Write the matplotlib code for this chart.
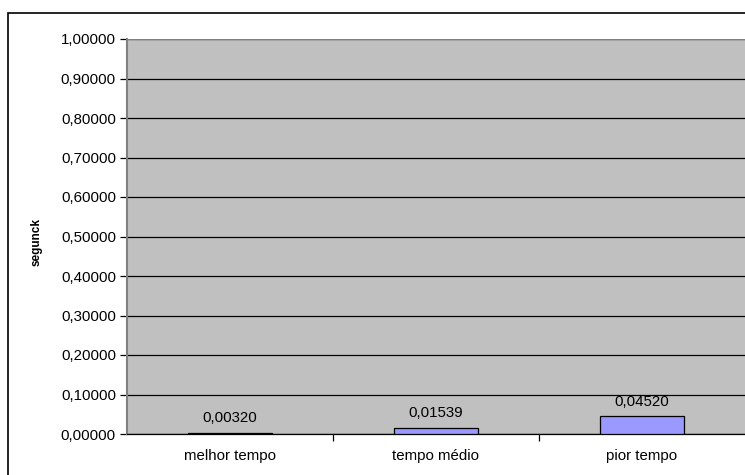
import matplotlib
matplotlib.use("Agg")
import matplotlib.pyplot as plt
from matplotlib.patches import Rectangle
from matplotlib.ticker import FuncFormatter

categories = ["melhor tempo", "tempo médio", "pior tempo"]
values = [0.00320, 0.01539, 0.04520]
yticks = [0.0, 0.1, 0.2, 0.3, 0.4, 0.5, 0.6, 0.7, 0.8, 0.9, 1.0]
ylabel = "segunck"

plt.rcParams["font.family"] = ["Liberation Sans", "DejaVu Sans"]

W, H = 745, 475
fig = plt.figure(figsize=(W / 100, H / 100), dpi=100)

# outer chart frame
fig.patches.append(Rectangle((8 / W, -0.01), 1.0, 1 - 13 / H + 0.01,
                             transform=fig.transFigure, fill=False,
                             edgecolor="black", linewidth=1.2))

left, right, top, bottom = 127, 745, 39, 434
ax = fig.add_axes([left / W, 1 - bottom / H, (right - left) / W, (bottom - top) / H])
ax.set_facecolor("#C0C0C0")

x = list(range(len(categories)))
ax.bar(x, values, width=0.41, color="#9999FF", edgecolor="black", linewidth=0.9, zorder=3)

for xi, v in zip(x, values):
    ax.annotate(f"{v:.5f}".replace(".", ","), (xi, v), xytext=(0, 5.5),
                textcoords="offset points", ha="center", va="bottom", fontsize=10.8)

ax.set_xlim(-0.5, len(categories) - 0.5)
ax.set_ylim(0, 1.0)
ax.set_yticks(yticks)
ax.yaxis.set_major_formatter(FuncFormatter(lambda v, p: f"{v:.5f}".replace(".", ",")))
ax.yaxis.grid(True, color="black", linewidth=0.9, zorder=1)
ax.set_axisbelow(True)

ax.set_xticks(x)
ax.set_xticklabels(categories, fontsize=10.8)
ax.set_xticks([0.5, 1.5], minor=True)
ax.tick_params(axis="x", which="major", length=0, pad=11)
ax.tick_params(axis="x", which="minor", length=5, color="black", width=0.9)
ax.tick_params(axis="y", length=5, width=0.9, color="black", labelsize=10.8, pad=3)

for s in ["top", "right"]:
    ax.spines[s].set_visible(False)
ax.spines["left"].set_color("#808080")
ax.spines["left"].set_linewidth(1.5)
ax.spines["bottom"].set_color("black")
ax.spines["bottom"].set_linewidth(0.9)
ax.axhline(1.0, color="#808080", linewidth=1.5, zorder=2)

fig.text(37 / W, 1 - 242 / H, ylabel, rotation=90, ha="center", va="center",
         fontsize=8.5, fontweight="bold")

fig.savefig("out.png", dpi=100)
